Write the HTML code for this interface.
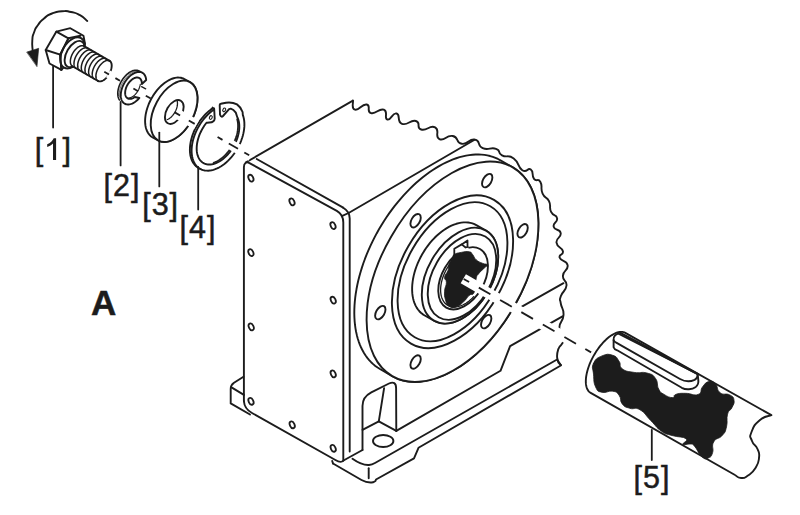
<!DOCTYPE html>
<html><head><meta charset="utf-8"><title>Diagram</title>
<style>
html,body{margin:0;padding:0;background:#fff;}
body{width:800px;height:515px;overflow:hidden;font-family:"Liberation Sans",sans-serif;}
svg{display:block;}
text{font-family:"Liberation Sans",sans-serif;fill:#1c1c1c;}
</style></head><body>
<svg width="800" height="515" viewBox="0 0 800 515">
<rect width="800" height="515" fill="#fff"/>
<path d="M352.90,100.60 C353.53,103.33 350.86,108.53 355.00,109.70 C359.14,110.87 361.90,103.48 366.70,104.50 C371.50,105.52 365.87,111.54 371.00,113.10 C376.13,114.66 378.88,107.78 383.80,109.70 C388.72,111.62 383.56,118.36 387.40,119.50 C391.24,120.64 392.22,112.21 396.60,113.50 C400.98,114.79 396.21,121.55 402.00,123.80 C407.79,126.05 410.14,119.29 415.90,121.00 C421.66,122.71 415.44,127.58 421.20,129.50 C426.96,131.42 429.64,124.52 435.10,127.40 C440.56,130.28 434.09,136.52 439.40,139.10 C444.71,141.68 446.08,134.59 452.80,136.00 C459.52,137.41 455.14,142.72 461.80,143.80 C468.46,144.88 468.73,138.28 475.00,139.60 C481.27,140.92 476.40,145.44 482.70,148.20 C489.00,150.96 490.21,146.67 496.00,148.80 C501.79,150.93 496.69,152.39 502.00,155.30 C507.31,158.21 507.61,154.03 513.70,158.50 C519.79,162.97 517.17,166.87 522.30,170.20 C527.43,173.53 527.29,167.02 530.80,169.60 C534.31,172.18 531.12,175.08 534.00,178.80 C536.88,182.52 537.82,177.53 540.40,182.00 C542.98,186.47 540.02,187.94 542.60,193.70 C545.18,199.46 546.45,195.74 549.00,201.20 C551.55,206.66 548.67,206.77 551.10,211.90 C553.53,217.03 556.32,213.86 557.10,218.30 C557.88,222.74 552.62,222.26 553.70,226.70 C554.78,231.14 559.86,228.30 560.70,233.10 C561.54,237.90 555.84,237.24 556.50,242.70 C557.16,248.16 561.94,246.80 562.90,251.30 C563.86,255.80 558.29,253.53 559.70,257.70 C561.11,261.87 566.64,259.74 567.60,265.20 C568.56,270.66 563.23,269.81 562.90,275.90 C562.57,281.99 567.13,279.41 566.50,285.50 C565.87,291.59 562.51,290.80 560.80,296.20 C559.09,301.60 559.99,297.77 560.80,303.50 C561.61,309.23 563.95,307.95 563.50,315.30 C563.05,322.65 559.30,320.65 559.30,328.00 C559.30,335.35 563.83,333.38 563.50,339.80 C563.17,346.22 560.00,343.49 558.20,349.40 C556.40,355.31 556.72,354.82 557.50,359.50 C558.28,364.18 559.81,363.35 560.80,365.00" fill="none" stroke="#1c1c1c" stroke-width="1.9" stroke-linecap="round" stroke-linejoin="round" />
<path d="M246.00,162.30 L352.90,100.60" fill="none" stroke="#1c1c1c" stroke-width="1.9" stroke-linecap="round" stroke-linejoin="round" />
<path d="M256.70,159.00 L343.20,207.70" fill="none" stroke="#1c1c1c" stroke-width="1.9" stroke-linecap="round" stroke-linejoin="round" />
<path d="M343.2,207.7 Q349.7,211.5 349.7,218.4 L349.7,451.5" fill="none" stroke="#1c1c1c" stroke-width="1.9" stroke-linecap="round" stroke-linejoin="round" />
<path d="M348.60,213.00 L474.60,139.80" fill="none" stroke="#1c1c1c" stroke-width="1.9" stroke-linecap="round" stroke-linejoin="round" />
<path d="M243.9,401.3 L243.9,167.2 C243.9,163 246.2,161.3 249.5,163.1 L336.8,210.9 Q343.3,214.5 343.3,222.6 L343.3,460.5" fill="none" stroke="#1c1c1c" stroke-width="1.9" stroke-linecap="round" stroke-linejoin="round" />
<path d="M341.80,216.20 L348.60,213.00" fill="none" stroke="#1c1c1c" stroke-width="1.9" stroke-linecap="round" stroke-linejoin="round" />
<path d="M243.9,401.3 Q244.5,409 252,413 L335.4,460 Q341,463.5 343.5,460.5" fill="none" stroke="#1c1c1c" stroke-width="1.9" stroke-linecap="round" stroke-linejoin="round" />
<ellipse cx="250.9" cy="178.2" rx="2.3" ry="3.6" transform="rotate(-25 250.9 178.2)" fill="#fff" stroke="#1c1c1c" stroke-width="1.8"/>
<ellipse cx="292.0" cy="201.9" rx="2.3" ry="3.6" transform="rotate(-25 292.0 201.9)" fill="#fff" stroke="#1c1c1c" stroke-width="1.8"/>
<ellipse cx="333.0" cy="225.6" rx="2.3" ry="3.6" transform="rotate(-25 333.0 225.6)" fill="#fff" stroke="#1c1c1c" stroke-width="1.8"/>
<ellipse cx="250.9" cy="252.6" rx="2.3" ry="3.6" transform="rotate(-25 250.9 252.6)" fill="#fff" stroke="#1c1c1c" stroke-width="1.8"/>
<ellipse cx="251.2" cy="326.9" rx="2.3" ry="3.6" transform="rotate(-25 251.2 326.9)" fill="#fff" stroke="#1c1c1c" stroke-width="1.8"/>
<ellipse cx="333.2" cy="300.2" rx="2.3" ry="3.6" transform="rotate(-25 333.2 300.2)" fill="#fff" stroke="#1c1c1c" stroke-width="1.8"/>
<ellipse cx="333.2" cy="373.9" rx="2.3" ry="3.6" transform="rotate(-25 333.2 373.9)" fill="#fff" stroke="#1c1c1c" stroke-width="1.8"/>
<ellipse cx="251.0" cy="401.3" rx="2.3" ry="3.6" transform="rotate(-25 251.0 401.3)" fill="#fff" stroke="#1c1c1c" stroke-width="1.8"/>
<ellipse cx="292.2" cy="424.8" rx="2.3" ry="3.6" transform="rotate(-25 292.2 424.8)" fill="#fff" stroke="#1c1c1c" stroke-width="1.8"/>
<ellipse cx="333.2" cy="448.3" rx="2.3" ry="3.6" transform="rotate(-25 333.2 448.3)" fill="#fff" stroke="#1c1c1c" stroke-width="1.8"/>
<path d="M243.5,376.7 L234,382.8 Q230.7,385 230.7,389 L230.7,403.4 L250,414.5" fill="none" stroke="#1c1c1c" stroke-width="1.9" stroke-linecap="round" stroke-linejoin="round" />
<path d="M231.50,387.40 L243.90,394.90" fill="none" stroke="#1c1c1c" stroke-width="1.9" stroke-linecap="round" stroke-linejoin="round" />
<path d="M343.50,460.50 L362.50,450.00" fill="none" stroke="#1c1c1c" stroke-width="1.9" stroke-linecap="round" stroke-linejoin="round" />
<path d="M362.5,450 L362.5,406 Q362.5,397 371.3,392.4 L389,383.5 Q396,380.5 396.1,388 L396.3,430.9" fill="none" stroke="#1c1c1c" stroke-width="1.9" stroke-linecap="round" stroke-linejoin="round" />
<path d="M384.10,388.20 L378.80,421.30" fill="none" stroke="#1c1c1c" stroke-width="1.9" stroke-linecap="round" stroke-linejoin="round" />
<path d="M362.50,429.80 L378.80,421.30" fill="none" stroke="#1c1c1c" stroke-width="1.9" stroke-linecap="round" stroke-linejoin="round" />
<path d="M378.80,421.30 L396.30,430.90" fill="none" stroke="#1c1c1c" stroke-width="1.9" stroke-linecap="round" stroke-linejoin="round" />
<path d="M396.3,430.9 L500.5,370.8 L510.1,346.2 L562.5,316.3" fill="none" stroke="#1c1c1c" stroke-width="1.9" stroke-linecap="round" stroke-linejoin="round" />
<path d="M352.5,458.7 Q362,465.5 369,465 Q372,464.8 375,463 L557.1,359.5 L560.8,365" fill="none" stroke="#1c1c1c" stroke-width="1.9" stroke-linecap="round" stroke-linejoin="round" />
<path d="M333,463.5 L361.5,480 Q367.5,483.3 373,482.3 L375.5,481 L376,479.5 L414,458.3 L418.5,447.8 L560.8,365.5" fill="none" stroke="#1c1c1c" stroke-width="1.9" stroke-linecap="round" stroke-linejoin="round" />
<path d="M333.00,463.50 L332.20,461.00" fill="none" stroke="#1c1c1c" stroke-width="1.9" stroke-linecap="round" stroke-linejoin="round" />
<path d="M368.70,468.30 L368.70,478.20" fill="none" stroke="#1c1c1c" stroke-width="1.9" stroke-linecap="round" stroke-linejoin="round" />
<ellipse cx="383.2" cy="441" rx="10.2" ry="6" fill="none" stroke="#1c1c1c" stroke-width="1.9"/>
<path d="M521.90,306.70 L563.50,283.20" fill="none" stroke="#1c1c1c" stroke-width="1.9" stroke-linecap="round" stroke-linejoin="round" />
<path d="M379.95,369.01 L377.60,367.54 L375.33,365.91 L373.17,364.13 L371.12,362.19 L369.17,360.10 L367.32,357.87 L365.59,355.49 L363.98,352.97 L362.48,350.32 L361.11,347.53 L359.85,344.62 L358.72,341.58 L357.72,338.43 L356.84,335.16 L356.09,331.78 L355.47,328.30 L354.98,324.72 L354.62,321.04 L354.40,317.29 L354.30,313.44 L354.34,309.53 L354.52,305.54 L354.82,301.50 L355.25,297.39 L355.82,293.23 L356.52,289.04 L357.34,284.80 L358.29,280.53 L359.37,276.24 L360.58,271.93 L361.91,267.60 L363.35,263.28 L364.92,258.95 L366.60,254.64 L368.40,250.34 L370.30,246.06 L372.32,241.81 L374.44,237.60 L376.66,233.42 L378.97,229.30 L381.39,225.23 L383.89,221.22 L386.48,217.28 L389.15,213.41 L391.91,209.62 L394.73,205.92 L397.63,202.30 L400.59,198.78 L403.61,195.37 L406.69,192.06 L409.82,188.86 L413.00,185.78 L416.22,182.82 L419.48,179.98 L422.77,177.28 L426.08,174.71 L429.42,172.28 L432.77,170.00 L436.14,167.85 L439.51,165.86 L442.88,164.02 L446.25,162.34 L449.61,160.81 L452.96,159.45 L456.28,158.24 L459.58,157.20 L462.85,156.33 L466.09,155.62 L469.28,155.08 L472.44,154.71 L475.54,154.51 L478.58,154.48 L481.57,154.62 L484.49,154.93 L487.35,155.40 L490.13,156.05 L492.84,156.86 L495.46,157.84 L498.00,158.99 L500.45,160.29 L512.75,167.39 L515.11,168.86 L517.37,170.49 L519.53,172.27 L521.59,174.21 L523.54,176.30 L525.38,178.53 L527.11,180.91 L528.72,183.43 L530.22,186.08 L531.59,188.87 L532.85,191.78 L533.98,194.82 L534.99,197.97 L535.86,201.24 L536.61,204.62 L537.23,208.10 L537.72,211.68 L538.08,215.36 L538.30,219.11 L538.40,222.96 L538.36,226.87 L538.19,230.86 L537.88,234.90 L537.45,239.01 L536.88,243.17 L536.19,247.36 L535.36,251.60 L534.41,255.87 L533.33,260.16 L532.12,264.47 L530.80,268.80 L529.35,273.12 L527.78,277.45 L526.10,281.76 L524.31,286.06 L522.40,290.34 L520.39,294.59 L518.27,298.80 L516.05,302.98 L513.73,307.10 L511.32,311.17 L508.81,315.18 L506.22,319.12 L503.55,322.99 L500.80,326.78 L497.97,330.48 L495.07,334.10 L492.11,337.62 L489.09,341.03 L486.01,344.34 L482.88,347.54 L479.70,350.62 L476.48,353.58 L473.22,356.42 L469.94,359.12 L466.62,361.69 L463.28,364.12 L459.93,366.40 L456.56,368.55 L453.19,370.54 L449.82,372.38 L446.45,374.06 L443.09,375.59 L439.75,376.95 L436.42,378.16 L433.12,379.20 L429.85,380.07 L426.61,380.78 L423.42,381.32 L420.27,381.69 L417.17,381.89 L414.12,381.92 L411.13,381.78 L408.21,381.47 L405.35,381.00 L402.57,380.35 L399.86,379.54 L397.24,378.56 L394.70,377.41 L392.25,376.11Z" fill="#fff" stroke="#1c1c1c" stroke-width="1.9" stroke-linecap="round" stroke-linejoin="round" />
<ellipse cx="452.50" cy="271.75" rx="70.70" ry="120.50" transform="rotate(30 452.50 271.75)" fill="#fff" stroke="#1c1c1c" stroke-width="1.9"/>
<ellipse cx="487.2" cy="180.6" rx="4.2" ry="7.4" transform="rotate(30 487.2 180.6)" fill="#fff" stroke="#1c1c1c" stroke-width="1.9"/>
<ellipse cx="522.6" cy="230.8" rx="4.2" ry="7.4" transform="rotate(30 522.6 230.8)" fill="#fff" stroke="#1c1c1c" stroke-width="1.9"/>
<ellipse cx="486.2" cy="321.6" rx="4.2" ry="7.4" transform="rotate(30 486.2 321.6)" fill="#fff" stroke="#1c1c1c" stroke-width="1.9"/>
<ellipse cx="415.6" cy="362.0" rx="4.2" ry="7.4" transform="rotate(30 415.6 362.0)" fill="#fff" stroke="#1c1c1c" stroke-width="1.9"/>
<ellipse cx="380.3" cy="312.6" rx="4.2" ry="7.4" transform="rotate(30 380.3 312.6)" fill="#fff" stroke="#1c1c1c" stroke-width="1.9"/>
<ellipse cx="415.6" cy="220.7" rx="4.2" ry="7.4" transform="rotate(30 415.6 220.7)" fill="#fff" stroke="#1c1c1c" stroke-width="1.9"/>
<ellipse cx="452.50" cy="271.75" rx="51.00" ry="83.00" transform="rotate(30 452.50 271.75)" fill="#fff" stroke="#1c1c1c" stroke-width="1.9"/>
<ellipse cx="452.50" cy="271.75" rx="46.00" ry="75.60" transform="rotate(30 452.50 271.75)" fill="none" stroke="#1c1c1c" stroke-width="1.9"/>
<path d="M424.30,315.23 L422.53,314.08 L420.87,312.74 L419.34,311.22 L417.95,309.52 L416.69,307.65 L415.57,305.63 L414.61,303.45 L413.80,301.12 L413.14,298.67 L412.64,296.10 L412.31,293.41 L412.14,290.62 L412.13,287.75 L412.28,284.80 L412.60,281.79 L413.07,278.73 L413.71,275.63 L414.51,272.51 L415.45,269.38 L416.55,266.26 L417.79,263.15 L419.17,260.07 L420.69,257.03 L422.33,254.05 L424.09,251.14 L425.96,248.31 L427.94,245.57 L430.01,242.94 L432.17,240.43 L434.41,238.05 L436.71,235.80 L439.07,233.70 L441.49,231.75 L443.94,229.97 L446.41,228.37 L448.91,226.94 L451.40,225.69 L453.90,224.64 L456.38,223.78 L458.83,223.12 L461.25,222.67 L463.62,222.41 L465.93,222.37 L468.17,222.52 L470.34,222.88 L472.43,223.44 L474.41,224.21 L476.30,225.17 L486.00,230.57 L487.77,231.72 L489.43,233.06 L490.96,234.58 L492.35,236.28 L493.61,238.15 L494.73,240.17 L495.69,242.35 L496.50,244.68 L497.16,247.13 L497.66,249.70 L497.99,252.39 L498.16,255.18 L498.17,258.05 L498.02,261.00 L497.70,264.01 L497.23,267.07 L496.59,270.17 L495.79,273.29 L494.85,276.42 L493.75,279.54 L492.51,282.65 L491.13,285.73 L489.61,288.77 L487.97,291.75 L486.21,294.66 L484.34,297.49 L482.36,300.23 L480.29,302.86 L478.13,305.37 L475.89,307.75 L473.59,310.00 L471.23,312.10 L468.81,314.05 L466.36,315.83 L463.89,317.43 L461.39,318.86 L458.90,320.11 L456.40,321.16 L453.92,322.02 L451.47,322.68 L449.05,323.13 L446.68,323.39 L444.37,323.43 L442.13,323.28 L439.96,322.92 L437.87,322.36 L435.89,321.59 L434.00,320.63Z" fill="#fff" stroke="#1c1c1c" stroke-width="1.9" stroke-linecap="round" stroke-linejoin="round" />
<ellipse cx="460.00" cy="275.60" rx="32.30" ry="52.00" transform="rotate(30 460.00 275.60)" fill="#fff" stroke="#1c1c1c" stroke-width="1.9"/>
<ellipse cx="462.00" cy="276.90" rx="29.00" ry="46.60" transform="rotate(30 462.00 276.90)" fill="#fff" stroke="#1c1c1c" stroke-width="1.9"/>
<ellipse cx="463.10" cy="278.30" rx="21.00" ry="33.80" transform="rotate(30 463.10 278.30)" fill="#fff" stroke="#1c1c1c" stroke-width="1.9"/>
<path d="M458.73,255.04 L457.16,256.27 L455.62,257.62 L454.12,259.07 L452.67,260.62 L451.27,262.26 L449.93,263.98 L448.66,265.77 L447.47,267.63 L446.35,269.54 L445.32,271.49 L444.38,273.48 L443.54,275.50 L442.80,277.53 L442.16,279.56 L441.62,281.59 L441.20,283.60 L440.89,285.58 L440.69,287.53 L440.60,289.43 L440.63,291.28 L440.78,293.06 L441.03,294.77 L441.40,296.40 L441.88,297.93 L442.47,299.37 L443.17,300.70 L443.96,301.93 L444.86,303.03 L445.84,304.01 L446.92,304.86 L448.07,305.57 L449.31,306.15 L450.61,306.59 L451.98,306.89 L453.41,307.05 L454.89,307.06 L456.41,306.93 L457.96,306.66 L459.54,306.24 L461.15,305.68 L462.76,304.99 L464.38,304.16 L465.99,303.20 L467.58,302.12 L469.16,300.92 L470.71,299.60 L472.22,298.18 L473.69,296.66" fill="none" stroke="#1c1c1c" stroke-width="1.3" stroke-linecap="round" stroke-linejoin="round" />
<path d="M454.3,256.5 L454.3,248.7 L461.7,244.4 L465.6,247.5 L468,247 L470,252 Z" fill="#fff" stroke="none" stroke-width="0" stroke-linecap="round" stroke-linejoin="round" />
<path d="M454.3,255.6 L454.3,248.7 L461.7,244.4 L465.6,247.5 L467.6,247" fill="none" stroke="#1c1c1c" stroke-width="1.8" stroke-linecap="round" stroke-linejoin="round" />
<path d="M461.7,244.4 L467.5,240.5 L467.5,246.6" fill="none" stroke="#1c1c1c" stroke-width="1.8" stroke-linecap="round" stroke-linejoin="round" />
<path d="M454.20,254.50 C456.52,253.01 457.23,253.12 461.20,252.40 C465.17,251.68 466.06,251.24 469.10,251.80 C472.14,252.36 470.73,252.39 472.60,254.50 C474.47,256.61 473.54,257.38 476.10,259.70 C478.66,262.02 479.19,261.81 482.20,263.20 C485.21,264.59 486.95,263.51 487.40,264.90 C487.85,266.29 486.22,266.05 483.90,268.40 C481.58,270.75 480.78,270.90 478.70,273.70 C476.62,276.50 477.27,274.02 476.10,278.90 C474.93,283.78 476.17,287.57 474.30,292.00 C472.43,296.43 471.90,292.94 469.10,295.50 C466.30,298.06 467.29,298.56 463.80,301.60 C460.31,304.64 459.95,305.73 456.00,306.90 C452.05,308.07 451.80,307.87 449.00,306.00 C446.20,304.13 446.67,303.85 445.50,299.90 C444.33,295.95 444.36,295.87 444.60,291.20 C444.84,286.53 446.40,286.13 446.40,282.40 C446.40,278.67 444.15,280.45 444.60,277.20 C445.05,273.95 446.93,273.69 448.10,270.20 C449.27,266.71 447.83,267.35 449.00,264.10 C450.17,260.85 451.11,260.56 452.50,258.00 C453.89,255.44 451.88,255.99 454.20,254.50Z" fill="#1c1c1c" stroke="#1c1c1c" stroke-width="0.8" stroke-linecap="round" stroke-linejoin="round" />
<path d="M625.33,332.89 L624.38,332.43 L623.37,332.10 L622.29,331.91 L621.15,331.84 L619.95,331.91 L618.70,332.11 L617.41,332.45 L616.08,332.91 L614.71,333.50 L613.31,334.22 L611.89,335.06 L610.45,336.02 L609.01,337.10 L607.55,338.29 L606.10,339.58 L604.66,340.97 L603.24,342.45 L601.83,344.03 L600.45,345.68 L599.10,347.41 L597.79,349.20 L596.52,351.05 L595.31,352.95 L594.14,354.90 L593.04,356.88 L592.00,358.89 L591.03,360.91 L590.13,362.94 L589.31,364.97 L588.57,366.99 L587.91,369.00 L587.34,370.98 L586.85,372.92 L586.46,374.82 L586.16,376.67 L585.95,378.46 L585.84,380.19 L585.82,381.84 L585.90,383.41 L586.07,384.89 L586.33,386.27 L586.69,387.56 L587.14,388.74 L587.68,389.81 L588.30,390.77 L589.01,391.61 L589.81,392.32 L590.67,392.91 L735,475  C736.80,475.90 737.10,477.85 741.00,478.00 C744.90,478.15 743.65,478.50 748.00,475.50 C752.35,472.50 752.20,473.25 755.50,468.00 C758.80,462.75 758.40,463.70 759.00,458.00 C759.60,452.30 759.60,454.10 757.50,449.00 C755.40,443.90 753.80,446.10 752.00,441.00 C750.20,435.90 749.10,438.30 751.50,432.00 C753.90,425.70 754.03,425.04 760.00,420.00 C765.97,414.96 767.98,416.64 771.40,415.20 Z" fill="#fff" stroke="#1c1c1c" stroke-width="1.9" stroke-linecap="round" stroke-linejoin="round" />
<path d="M593.50,363.40 C595.77,358.55 596.88,358.06 602.00,355.90 C607.12,353.74 608.14,353.86 612.70,355.30 C617.26,356.74 616.54,357.70 619.10,361.30 C621.66,364.90 618.30,365.84 622.30,368.80 C626.30,371.76 627.54,371.28 634.10,372.40 C640.66,373.52 641.19,371.40 646.90,373.00 C652.61,374.60 652.35,374.11 655.50,378.40 C658.65,382.69 656.43,384.83 658.70,389.10 C660.97,393.37 660.29,392.13 664.00,394.40 C667.71,396.67 669.45,397.60 672.60,397.60 C675.75,397.60 672.39,395.55 675.80,394.40 C679.21,393.25 679.43,393.30 685.40,393.30 C691.37,393.30 693.64,396.11 698.20,394.40 C702.76,392.69 699.65,390.31 702.50,386.90 C705.35,383.49 705.43,382.37 708.90,381.60 C712.37,380.83 712.51,381.04 715.50,384.00 C718.49,386.96 716.31,389.79 720.10,392.70 C723.89,395.61 725.99,392.90 729.70,394.90 C733.41,396.90 733.41,396.79 734.00,400.20 C734.59,403.61 733.61,403.99 731.90,407.70 C730.19,411.41 729.04,408.98 727.60,414.10 C726.16,419.22 727.94,421.19 726.50,426.90 C725.06,432.61 725.61,431.50 722.20,435.50 C718.79,439.50 716.26,437.34 713.70,441.90 C711.14,446.46 714.01,448.33 712.60,452.60 C711.19,456.87 711.23,456.78 708.40,457.90 C705.57,459.02 705.71,459.92 702.00,456.80 C698.29,453.68 697.65,449.61 694.50,446.20 C691.35,442.79 693.27,444.51 690.20,444.00 C687.13,443.49 684.15,445.71 683.00,444.30 C681.85,442.89 688.83,441.05 685.90,438.70 C682.97,436.35 678.53,437.50 672.00,435.50 C665.47,433.50 667.08,435.20 661.40,431.20 C655.72,427.20 656.41,426.21 650.70,420.50 C644.99,414.79 645.57,413.05 640.00,409.80 C634.43,406.55 634.52,409.85 629.80,408.30 C625.08,406.75 625.13,407.41 622.30,404.00 C619.47,400.59 621.76,398.91 619.20,395.50 C616.64,392.09 617.29,392.05 612.70,391.20 C608.11,390.35 606.56,393.45 602.00,392.30 C597.44,391.15 597.87,391.75 595.60,386.90 C593.33,382.05 594.06,380.37 593.50,374.10 C592.94,367.83 591.23,368.25 593.50,363.40Z" fill="#1c1c1c" stroke="#1c1c1c" stroke-width="0.8" stroke-linecap="round" stroke-linejoin="round" />
<path d="M618,333.5 L615.2,335.2 Q613.2,337.5 613.6,340.2 L613.6,347.3 Q614.3,349.6 617.2,350.3 L681.8,387.8 C686,390 692,389.6 695.8,386.9 C698,385 698.7,383 698.3,380 L697.6,374 Z" fill="#fff" stroke="#1c1c1c" stroke-width="1.9" stroke-linecap="round" stroke-linejoin="round" />
<path d="M613.6,340.2 Q614.3,342 616.2,342.7 L680,379 C684,381.2 690,382 694.6,379.9 C696.8,378.6 697.8,376.8 697.6,374" fill="none" stroke="#1c1c1c" stroke-width="1.9" stroke-linecap="round" stroke-linejoin="round" />
<path d="M619.5,332.5 L697.6,374" fill="none" stroke="#1c1c1c" stroke-width="2.3" stroke-linecap="round" stroke-linejoin="round" />
<path d="M224.03,161.84 L222.63,162.98 L221.22,164.03 L219.80,165.00 L218.36,165.89 L216.92,166.69 L215.48,167.40 L214.04,168.02 L212.60,168.54 L211.18,168.97 L209.77,169.30 L208.38,169.54 L207.02,169.67 L205.68,169.71 L204.38,169.65 L203.11,169.49 L201.88,169.23 L200.69,168.87 L199.55,168.42 L198.46,167.87 L197.42,167.22 L196.44,166.49 L195.52,165.67 L194.66,164.76 L193.87,163.76 L193.14,162.69 L192.48,161.53 L191.89,160.31 L191.38,159.01 L190.94,157.64 L190.58,156.21 L190.29,154.72 L190.08,153.18 L189.95,151.59 L189.90,149.96 L189.93,148.28 L190.03,146.57 L190.22,144.83 L190.48,143.06 L190.82,141.28 L191.24,139.48 L191.73,137.67 L192.29,135.86 L192.93,134.05 L193.64,132.25 L194.41,130.46 L195.25,128.70 L196.15,126.95 L197.11,125.23 L198.13,123.55 L199.21,121.91 L200.33,120.31 L201.51,118.75 L202.72,117.26 L203.98,115.82 L205.28,114.44 L206.60,113.13 L207.96,111.89 L209.34,110.72 L210.74,109.63 L212.16,108.62 L212.6,107.6" fill="none" stroke="#1c1c1c" stroke-width="1.9" stroke-linecap="round" stroke-linejoin="round" />
<path d="M242.81,114.88 L243.38,116.62 L243.82,118.46 L244.14,120.39 L244.34,122.40 L244.40,124.49 L244.34,126.64 L244.14,128.85 L243.82,131.10 L243.38,133.38 L242.81,135.68 L242.12,137.99 L241.31,140.30 L240.39,142.60 L239.36,144.87 L238.23,147.10 L237.00,149.29 L235.67,151.42 L234.26,153.49 L232.77,155.48 L231.21,157.38 L229.58,159.18 L227.90,160.88 L226.16,162.47 L224.39,163.93 L222.59,165.27 L220.77,166.47 L218.93,167.53 L217.09,168.44 L215.25,169.21 L213.42,169.82 L211.62,170.27 L209.85,170.57 L208.12,170.70 L206.43,170.67 L204.81,170.49 L203.24,170.14 L201.75,169.63 L200.34,168.97 L199.01,168.15 L197.78,167.19 L196.65,166.08 L195.61,164.83 L194.69,163.45 L193.88,161.94 L193.19,160.32 L192.62,158.58 L192.18,156.74 L191.86,154.81 L191.66,152.80 L191.60,150.71 L191.66,148.56 L191.86,146.35 L192.18,144.10 L192.62,141.82 L193.19,139.52 L193.88,137.21 L194.69,134.90 L195.61,132.60 L196.64,130.33 L197.77,128.10 L199.00,125.91 L200.33,123.78 L201.74,121.71 L203.23,119.72 L204.79,117.82 L206.42,116.02 L208.10,114.32 L209.84,112.73 L211.61,111.27 L213.41,109.93 L213.2,108.3 Q214.2,107.8 214.2,109.2 L214.7,118.8 Q214.6,120.6 213.2,121.4 L211.6,122.3 L207.2,122.7 L206.50,122.78 L205.35,124.27 L204.26,125.83 L203.22,127.43 L202.25,129.08 L201.35,130.77 L200.51,132.48 L199.75,134.21 L199.07,135.96 L198.47,137.72 L197.95,139.48 L197.52,141.23 L197.17,142.96 L196.92,144.67 L196.75,146.35 L196.68,147.99 L196.69,149.59 L196.80,151.13 L196.99,152.62 L197.28,154.05 L197.66,155.40 L198.12,156.68 L198.66,157.88 L199.29,158.99 L200.00,160.01 L200.79,160.94 L201.64,161.76 L202.57,162.48 L203.57,163.10 L204.62,163.60 L205.74,164.00 L206.90,164.28 L208.11,164.45 L209.37,164.51 L210.66,164.45 L211.98,164.27 L213.33,163.98 L214.70,163.58 L216.08,163.07 L217.48,162.45 L218.87,161.72 L220.26,160.90 L221.64,159.97 L223.00,158.94 L224.34,157.83 L225.66,156.63 L226.94,155.34 L228.19,153.99 L229.39,152.56 L230.54,151.06 L231.64,149.52 L232.68,147.92 L233.66,146.27 L234.57,144.59 L235.41,142.88 L236.18,141.15 L236.87,139.40 L237.48,137.64 L238.00,135.88 L238.45,134.13 L238.80,132.40 L239.06,130.69 L239.24,129.01 L239.32,127.36 L239.31,125.76 L239.22,124.20 L239.03,122.71 L238.75,121.28 L238.38,119.92 L237.93,118.63 L237.39,117.43 L235.8,112.6 Q233.5,109.3 230.8,108.6 L229.1,109.2 L223,116 Q221.8,117.2 220.8,116.2 L220,114.6 L219.7,105 Q219.7,104 220.8,103.8 L226,102.7 Q232,101.8 237,104.4 Q240.7,107 242.6,112 Z" fill="#fff" stroke="#1c1c1c" stroke-width="1.9" stroke-linecap="round" stroke-linejoin="round" />
<ellipse cx="210.8" cy="117.5" rx="1.3" ry="1.9" transform="rotate(30 210.8 117.5)" fill="#fff" stroke="#1c1c1c" stroke-width="1.1"/>
<ellipse cx="224.2" cy="109.8" rx="1.3" ry="1.9" transform="rotate(30 224.2 109.8)" fill="#fff" stroke="#1c1c1c" stroke-width="1.1"/>
<path d="M213.59,162.72 L214.48,162.39 L215.36,162.03 L216.26,161.61 L217.15,161.15 L218.04,160.66 L218.93,160.11 L219.81,159.53 L220.69,158.91 L221.56,158.25 L222.43,157.55 L223.28,156.82 L224.12,156.05 L224.95,155.25 L225.77,154.41 L226.57,153.55 L227.35,152.65 L228.11,151.73 L228.86,150.78 L229.58,149.81 L230.28,148.81 L230.95,147.79 L231.60,146.76 L232.23,145.70 L232.83,144.63 L233.40,143.55 L233.94,142.46 L234.45,141.35 L234.93,140.24 L235.37,139.12 L235.79,138.00 L236.17,136.87 L236.52,135.75 L236.83,134.63 L237.11,133.51 L237.35,132.39 L237.55,131.29 L237.72,130.19 L237.85,129.11 L237.95,128.04 L238.01,126.98 L238.03,125.94 L238.01,124.92 L237.96,123.92 L237.87,122.95 L237.74,121.99 L237.58,121.07 L237.38,120.17 L237.14,119.30" fill="none" stroke="#1c1c1c" stroke-width="1.7" stroke-linecap="round" stroke-linejoin="round" />
<path d="M152.66,137.38 L151.57,136.70 L150.55,135.91 L149.60,134.99 L148.74,133.96 L147.96,132.82 L147.27,131.58 L146.67,130.23 L146.17,128.79 L145.76,127.26 L145.45,125.65 L145.23,123.97 L145.12,122.22 L145.10,120.41 L145.19,118.54 L145.38,116.63 L145.66,114.69 L146.04,112.72 L146.52,110.73 L147.10,108.72 L147.76,106.72 L148.52,104.72 L149.35,102.74 L150.28,100.78 L151.28,98.85 L152.35,96.96 L153.49,95.12 L154.70,93.34 L155.96,91.61 L157.28,89.97 L158.65,88.39 L160.06,86.91 L161.50,85.51 L162.98,84.21 L164.48,83.02 L165.99,81.93 L167.52,80.96 L169.05,80.10 L170.58,79.36 L172.10,78.74 L173.61,78.26 L175.09,77.90 L176.54,77.67 L177.96,77.57 L179.34,77.60 L180.68,77.76 L181.96,78.05 L183.18,78.47 L184.34,79.02 L189.94,82.12 L191.03,82.80 L192.05,83.59 L193.00,84.51 L193.86,85.54 L194.64,86.68 L195.33,87.92 L195.93,89.27 L196.43,90.71 L196.84,92.24 L197.15,93.85 L197.37,95.53 L197.48,97.28 L197.50,99.09 L197.41,100.96 L197.22,102.87 L196.94,104.81 L196.56,106.78 L196.08,108.77 L195.50,110.78 L194.84,112.78 L194.08,114.78 L193.25,116.76 L192.32,118.72 L191.32,120.65 L190.25,122.54 L189.11,124.38 L187.90,126.16 L186.64,127.89 L185.32,129.53 L183.95,131.11 L182.54,132.59 L181.10,133.99 L179.62,135.29 L178.12,136.48 L176.61,137.57 L175.08,138.54 L173.55,139.40 L172.02,140.14 L170.50,140.76 L168.99,141.24 L167.51,141.60 L166.06,141.83 L164.64,141.93 L163.26,141.90 L161.92,141.74 L160.64,141.45 L159.42,141.03 L158.26,140.48Z" fill="#fff" stroke="#1c1c1c" stroke-width="1.9" stroke-linecap="round" stroke-linejoin="round" />
<ellipse cx="174.10" cy="111.30" rx="19.60" ry="33.20" transform="rotate(28.5 174.10 111.30)" fill="#fff" stroke="#1c1c1c" stroke-width="1.9"/>
<clipPath id="wh"><ellipse cx="174.30" cy="112.00" rx="7.8" ry="13" transform="rotate(30 174.30 112.00)"/></clipPath>
<g clip-path="url(#wh)">
<path d="M167.46,119.53 L168.01,119.27 L168.55,118.96 L169.10,118.62 L169.64,118.25 L170.17,117.84 L170.70,117.41 L171.22,116.94 L171.73,116.44 L172.22,115.92 L172.71,115.37 L173.17,114.79 L173.62,114.20 L174.05,113.58 L174.47,112.95 L174.85,112.30 L175.22,111.64 L175.56,110.97 L175.88,110.29 L176.17,109.60 L176.44,108.91 L176.67,108.21 L176.88,107.52 L177.05,106.83 L177.20,106.15 L177.32,105.47 L177.40,104.81 L177.45,104.15 L177.47,103.51 L177.46,102.89 L177.42,102.28 L177.35,101.70 L177.24,101.14 L177.11,100.60 L176.94,100.09 L176.74,99.61 L176.52,99.15 L176.26,98.73 L175.98,98.34 L175.67,97.99 L175.34,97.67 L174.98,97.39 L174.60,97.14 L174.20,96.93 L173.77,96.77 L173.33,96.64 L172.87,96.55 L172.39,96.50 L171.90,96.49" fill="none" stroke="#1c1c1c" stroke-width="1.3" stroke-linecap="round" stroke-linejoin="round" />
</g>
<ellipse cx="174.30" cy="112.00" rx="7.80" ry="13.00" transform="rotate(30 174.30 112.00)" fill="none" stroke="#1c1c1c" stroke-width="1.9"/>
<path d="M142.75,75.78 L142.54,75.10 L142.29,74.46 L142.00,73.85 L141.67,73.29 L141.31,72.77 L140.91,72.30 L140.48,71.87 L140.01,71.49 L139.52,71.15 L138.99,70.87 L138.44,70.64 L137.87,70.45 L137.27,70.32 L136.65,70.24 L136.00,70.22 L135.35,70.24 L134.67,70.32 L133.98,70.45 L133.28,70.63 L132.57,70.86 L131.86,71.14 L131.14,71.48 L130.42,71.86 L129.70,72.28 L128.98,72.76 L128.27,73.27 L127.56,73.83 L126.86,74.43 L126.18,75.07 L125.50,75.75 L124.85,76.46 L124.21,77.20 L123.60,77.98 L123.00,78.78 L122.43,79.60 L121.88,80.45 L121.37,81.32 L120.88,82.20 L120.42,83.10 L120.00,84.01 L119.61,84.92 L119.25,85.84 L118.93,86.77 L118.65,87.69 L118.41,88.61 L118.20,89.52 L118.04,90.42 L117.91,91.31 L117.83,92.19 L117.78,93.04 L117.78,93.88 L117.82,94.69 L117.90,95.47 L118.01,96.23 L118.17,96.96 L118.37,97.65 L118.61,98.30 L118.89,98.92 L119.20,99.50 L119.55,100.03" fill="none" stroke="#1c1c1c" stroke-width="1.6" stroke-linecap="round" stroke-linejoin="round" />
<path d="M141.66,72.45 L141.29,72.18 L140.90,71.93 L140.49,71.72 L140.07,71.54 L139.64,71.38 L139.19,71.26 L138.72,71.16 L138.24,71.10 L137.75,71.07 L137.25,71.07 L136.74,71.10 L136.22,71.16 L135.70,71.25 L135.16,71.38 L134.62,71.53 L134.07,71.71 L133.53,71.92 L132.97,72.17 L132.42,72.44 L131.86,72.74 L131.31,73.06 L130.75,73.42 L130.20,73.80 L129.66,74.21 L129.11,74.64 L128.57,75.10 L128.04,75.58 L127.52,76.08 L127.00,76.60 L126.50,77.14 L126.00,77.71 L125.52,78.29 L125.05,78.89 L124.59,79.50 L124.15,80.13 L123.72,80.78 L123.30,81.43 L122.91,82.10 L122.53,82.78 L122.17,83.46 L121.82,84.16 L121.50,84.86 L121.20,85.56 L120.91,86.27 L120.65,86.98 L120.41,87.69 L120.19,88.40 L120.00,89.11 L119.82,89.81 L119.67,90.51 L119.55,91.20 L119.45,91.89 L119.37,92.57 L119.31,93.24 L119.28,93.89 L119.28,94.54 L119.29,95.17 L119.34,95.78 L119.40,96.38 L119.49,96.97" fill="none" stroke="#1c1c1c" stroke-width="0.7" stroke-linecap="round" stroke-linejoin="round" />
<path d="M146.18,80.01 L146.07,79.00 L145.90,78.05 L145.66,77.15 L145.35,76.30 L144.98,75.52 L144.55,74.81 L144.06,74.17 L143.51,73.60 L142.91,73.12 L142.26,72.71 L141.57,72.38 L140.83,72.14 L140.05,71.99 L139.23,71.92 L138.39,71.94 L137.52,72.04 L136.63,72.23 L135.72,72.51 L134.80,72.87 L133.87,73.31 L132.94,73.83 L132.02,74.43 L131.10,75.10 L130.19,75.84 L129.30,76.65 L128.44,77.52 L127.60,78.45 L126.79,79.42 L126.02,80.45 L125.29,81.52 L124.60,82.62 L123.96,83.75 L123.37,84.90 L122.84,86.08 L122.36,87.26 L121.94,88.45 L121.58,89.64 L121.29,90.82 L121.06,91.98 L120.90,93.13 L120.80,94.25 L120.78,95.34 L120.82,96.39 L120.93,97.39 L121.10,98.35 L121.34,99.25 L121.65,100.09 L122.02,100.87 L122.45,101.59 L122.94,102.23 L123.49,102.79 L124.08,103.28 L124.73,103.69 L125.43,104.02 L126.17,104.26 L126.95,104.41 L127.76,104.48 L128.61,104.46 L129.48,104.36 L130.37,104.17 L131.28,103.89 L132.20,103.53 L133.13,103.09 L134.06,102.57 L134.98,101.97 L135.90,101.30 L136.81,100.56 L137.69,99.75 L138.56,98.88 L139.40,97.96 L134.75,97.05 L134.17,97.45 L133.58,97.81 L133.00,98.11 L132.42,98.37 L131.84,98.58 L131.27,98.74 L130.71,98.84 L130.16,98.90 L129.64,98.90 L129.13,98.85 L128.64,98.74 L128.17,98.59 L127.74,98.38 L127.33,98.12 L126.95,97.82 L126.60,97.47 L126.28,97.07 L126.01,96.63 L125.77,96.15 L125.56,95.62 L125.40,95.07 L125.27,94.47 L125.19,93.85 L125.14,93.20 L125.14,92.53 L125.18,91.83 L125.26,91.12 L125.38,90.39 L125.54,89.65 L125.74,88.90 L125.97,88.15 L126.25,87.40 L126.56,86.66 L126.90,85.92 L127.27,85.20 L127.68,84.48 L128.12,83.79 L128.58,83.12 L129.06,82.47 L129.57,81.85 L130.10,81.26 L130.64,80.71 L131.20,80.19 L131.76,79.72 L132.34,79.28 L132.92,78.89 L133.51,78.54 L134.09,78.24 L134.68,77.99 L135.25,77.79 L135.82,77.64 L136.38,77.54 L136.92,77.50 L137.45,77.51 L137.95,77.57 L138.44,77.68 L138.90,77.84 L139.33,78.06 L139.74,78.32 L140.11,78.63 L140.45,78.99 L140.76,79.40 L141.03,79.85 L141.27,80.34 L141.47,80.86 L141.63,81.43 L141.74,82.02 L141.82,82.65 L141.86,83.31 L141.86,83.98Z" fill="#fff" stroke="#1c1c1c" stroke-width="1.9" stroke-linecap="round" stroke-linejoin="round" />
<path d="M128.55,98.00 L128.84,97.99 L129.14,97.95 L129.44,97.91 L129.75,97.84 L130.05,97.76 L130.37,97.67 L130.68,97.56 L131.00,97.44 L131.31,97.30 L131.63,97.15 L131.95,96.98 L132.27,96.80 L132.59,96.60 L132.91,96.39 L133.22,96.17 L133.54,95.94 L133.85,95.69 L134.16,95.43 L134.47,95.16 L134.77,94.88 L135.07,94.58 L135.37,94.28 L135.66,93.96 L135.94,93.64 L136.22,93.30 L136.49,92.96 L136.76,92.61 L137.02,92.25 L137.27,91.89 L137.51,91.51 L137.75,91.13 L137.98,90.75 L138.19,90.36 L138.40,89.97 L138.61,89.57 L138.80,89.17 L138.98,88.76 L139.15,88.36 L139.31,87.95 L139.46,87.54 L139.60,87.13 L139.72,86.73 L139.84,86.32 L139.95,85.91 L140.04,85.51 L140.12,85.11 L140.19,84.71 L140.25,84.31" fill="none" stroke="#1c1c1c" stroke-width="1.2" stroke-linecap="round" stroke-linejoin="round" />
<path d="M141.60,86.70 L145.70,88.80" fill="none" stroke="#1c1c1c" stroke-width="1.3" stroke-linecap="round" stroke-linejoin="round" />
<path d="M45.70,50.00 L56.40,31.60 L70.30,28.20 L83.50,35.80 L85.00,44.00 L61.40,69.80 L49.50,63.50Z" fill="#fff" stroke="#1c1c1c" stroke-width="1.9" stroke-linecap="round" stroke-linejoin="round" />
<path d="M56.40,31.60 L68.40,38.30" fill="none" stroke="#1c1c1c" stroke-width="1.9" stroke-linecap="round" stroke-linejoin="round" />
<path d="M68.40,38.30 L60.20,54.70" fill="none" stroke="#1c1c1c" stroke-width="1.9" stroke-linecap="round" stroke-linejoin="round" />
<path d="M45.70,50.00 L60.20,54.70" fill="none" stroke="#1c1c1c" stroke-width="1.9" stroke-linecap="round" stroke-linejoin="round" />
<path d="M60.20,54.70 L61.40,69.80" fill="none" stroke="#1c1c1c" stroke-width="1.9" stroke-linecap="round" stroke-linejoin="round" />
<path d="M68.40,38.30 L80.50,35.80" fill="none" stroke="#1c1c1c" stroke-width="1.9" stroke-linecap="round" stroke-linejoin="round" />
<ellipse cx="72.60" cy="52.90" rx="10.20" ry="17.00" transform="rotate(30 72.60 52.90)" fill="#fff" stroke="#1c1c1c" stroke-width="1.9"/>
<path d="M68.40,38.30 L60.20,54.70" fill="none" stroke="#1c1c1c" stroke-width="1.9" stroke-linecap="round" stroke-linejoin="round" />
<path d="M60.20,54.70 L61.40,69.80" fill="none" stroke="#1c1c1c" stroke-width="1.9" stroke-linecap="round" stroke-linejoin="round" />
<ellipse cx="74.60" cy="54.05" rx="8.00" ry="14.40" transform="rotate(30 74.60 54.05)" fill="none" stroke="#1c1c1c" stroke-width="1.9"/>
<path d="M84.05,46.11 L109.60,60.86 L109.60,60.86 L109.94,61.08 L110.25,61.35 L110.54,61.65 L110.79,62.00 L111.02,62.39 L111.21,62.81 L111.38,63.26 L111.51,63.75 L111.61,64.27 L111.67,64.82 L111.70,65.39 L111.70,65.99 L111.66,66.61 L111.59,67.25 L111.49,67.90 L111.35,68.56 L111.18,69.24 L110.98,69.92 L110.75,70.61 L110.49,71.30 L110.20,71.98 L109.88,72.66 L109.54,73.34 L109.17,74.00 L108.78,74.65 L108.37,75.29 L107.93,75.90 L107.49,76.50 L107.02,77.07 L106.54,77.61 L106.05,78.13 L105.55,78.61 L105.04,79.06 L104.53,79.48 L104.01,79.86 L103.50,80.20 L102.98,80.50 L102.47,80.76 L101.96,80.98 L101.46,81.15 L100.97,81.28 L100.50,81.37 L100.03,81.41 L99.59,81.41 L99.16,81.36 L98.75,81.27 L98.36,81.13 L98.00,80.95 L72.45,66.21 L72.45,66.21 L72.11,65.98 L71.80,65.72 L71.51,65.41 L71.26,65.06 L71.03,64.68 L70.84,64.25 L70.67,63.80 L70.54,63.31 L70.44,62.79 L70.38,62.24 L70.35,61.67 L70.35,61.07 L70.39,60.45 L70.46,59.82 L70.56,59.16 L70.70,58.50 L70.87,57.82 L71.07,57.14 L71.30,56.45 L71.56,55.77 L71.85,55.08 L72.17,54.40 L72.51,53.72 L72.88,53.06 L73.27,52.41 L73.68,51.78 L74.12,51.16 L74.56,50.57 L75.03,50.00 L75.51,49.45 L76.00,48.94 L76.50,48.45 L77.01,48.00 L77.52,47.59 L78.04,47.21 L78.55,46.86 L79.07,46.56 L79.58,46.30 L80.09,46.08 L80.59,45.91 L81.08,45.78 L81.55,45.69 L82.02,45.65 L82.46,45.65 L82.89,45.70 L83.30,45.80 L83.69,45.93 L84.05,46.11Z" fill="#fff" stroke="none" stroke-width="0" stroke-linecap="round" stroke-linejoin="round" />
<path d="M84.05,46.11 L109.60,60.86" fill="none" stroke="#1c1c1c" stroke-width="1.9" stroke-linecap="round" stroke-linejoin="round" />
<path d="M72.45,66.21 L98.00,80.95" fill="none" stroke="#1c1c1c" stroke-width="1.9" stroke-linecap="round" stroke-linejoin="round" />
<path d="M84.05,46.11 L83.69,45.93 L83.30,45.80 L82.89,45.70 L82.46,45.65 L82.02,45.65 L81.55,45.69 L81.08,45.78 L80.59,45.91 L80.09,46.08 L79.58,46.30 L79.07,46.56 L78.55,46.86 L78.04,47.21 L77.52,47.59 L77.01,48.00 L76.50,48.45 L76.00,48.94 L75.51,49.45 L75.03,50.00 L74.56,50.57 L74.12,51.16 L73.68,51.78 L73.27,52.41 L72.88,53.06 L72.51,53.72 L72.17,54.40 L71.85,55.08 L71.56,55.77 L71.30,56.45 L71.07,57.14 L70.87,57.82 L70.70,58.50 L70.56,59.16 L70.46,59.82 L70.39,60.45 L70.35,61.07 L70.35,61.67 L70.38,62.24 L70.44,62.79 L70.54,63.31 L70.67,63.80 L70.84,64.25 L71.03,64.68 L71.26,65.06 L71.51,65.41 L71.80,65.72 L72.11,65.98 L72.45,66.21" fill="none" stroke="#1c1c1c" stroke-width="1.5" stroke-linecap="round" stroke-linejoin="round" />
<path d="M87.70,48.22 L87.34,48.04 L86.95,47.90 L86.54,47.81 L86.11,47.76 L85.67,47.76 L85.20,47.80 L84.73,47.89 L84.24,48.02 L83.74,48.19 L83.23,48.41 L82.72,48.67 L82.20,48.97 L81.69,49.31 L81.17,49.69 L80.66,50.11 L80.15,50.56 L79.65,51.04 L79.16,51.56 L78.68,52.10 L78.21,52.67 L77.77,53.27 L77.33,53.88 L76.92,54.52 L76.53,55.17 L76.16,55.83 L75.82,56.50 L75.50,57.19 L75.21,57.87 L74.95,58.56 L74.72,59.25 L74.52,59.93 L74.35,60.60 L74.21,61.27 L74.11,61.92 L74.04,62.56 L74.00,63.18 L74.00,63.78 L74.03,64.35 L74.09,64.90 L74.19,65.42 L74.32,65.90 L74.49,66.36 L74.68,66.78 L74.91,67.17 L75.16,67.51 L75.45,67.82 L75.76,68.09 L76.10,68.31" fill="none" stroke="#1c1c1c" stroke-width="1.5" stroke-linecap="round" stroke-linejoin="round" />
<path d="M91.35,50.33 L90.99,50.15 L90.60,50.01 L90.19,49.91 L89.76,49.87 L89.32,49.86 L88.85,49.90 L88.38,49.99 L87.89,50.12 L87.39,50.30 L86.88,50.52 L86.37,50.78 L85.85,51.08 L85.34,51.42 L84.82,51.80 L84.31,52.21 L83.80,52.66 L83.30,53.15 L82.81,53.66 L82.33,54.21 L81.86,54.78 L81.42,55.37 L80.98,55.99 L80.57,56.62 L80.18,57.27 L79.81,57.94 L79.47,58.61 L79.15,59.29 L78.86,59.98 L78.60,60.67 L78.37,61.35 L78.17,62.04 L78.00,62.71 L77.86,63.38 L77.76,64.03 L77.69,64.67 L77.65,65.28 L77.65,65.88 L77.68,66.45 L77.74,67.00 L77.84,67.52 L77.97,68.01 L78.14,68.47 L78.33,68.89 L78.56,69.27 L78.81,69.62 L79.10,69.93 L79.41,70.19 L79.75,70.42" fill="none" stroke="#1c1c1c" stroke-width="1.5" stroke-linecap="round" stroke-linejoin="round" />
<path d="M95.00,52.43 L94.64,52.25 L94.25,52.11 L93.84,52.02 L93.41,51.97 L92.97,51.97 L92.50,52.01 L92.03,52.10 L91.54,52.23 L91.04,52.40 L90.53,52.62 L90.02,52.88 L89.50,53.18 L88.99,53.52 L88.47,53.90 L87.96,54.32 L87.45,54.77 L86.95,55.25 L86.46,55.77 L85.98,56.31 L85.51,56.88 L85.07,57.48 L84.63,58.09 L84.22,58.73 L83.83,59.38 L83.46,60.04 L83.12,60.72 L82.80,61.40 L82.51,62.08 L82.25,62.77 L82.02,63.46 L81.82,64.14 L81.65,64.82 L81.51,65.48 L81.41,66.13 L81.34,66.77 L81.30,67.39 L81.30,67.99 L81.33,68.56 L81.39,69.11 L81.49,69.63 L81.62,70.12 L81.79,70.57 L81.98,70.99 L82.21,71.38 L82.46,71.73 L82.75,72.03 L83.06,72.30 L83.40,72.52" fill="none" stroke="#1c1c1c" stroke-width="1.5" stroke-linecap="round" stroke-linejoin="round" />
<path d="M98.65,54.54 L98.29,54.36 L97.90,54.22 L97.49,54.13 L97.06,54.08 L96.62,54.08 L96.15,54.12 L95.68,54.20 L95.19,54.33 L94.69,54.51 L94.18,54.73 L93.67,54.99 L93.15,55.29 L92.64,55.63 L92.12,56.01 L91.61,56.43 L91.10,56.88 L90.60,57.36 L90.11,57.88 L89.63,58.42 L89.16,58.99 L88.72,59.58 L88.28,60.20 L87.87,60.83 L87.48,61.48 L87.11,62.15 L86.77,62.82 L86.45,63.50 L86.16,64.19 L85.90,64.88 L85.67,65.56 L85.47,66.25 L85.30,66.92 L85.16,67.59 L85.06,68.24 L84.99,68.88 L84.95,69.50 L84.95,70.09 L84.98,70.67 L85.04,71.21 L85.14,71.73 L85.27,72.22 L85.44,72.68 L85.63,73.10 L85.86,73.49 L86.11,73.83 L86.40,74.14 L86.71,74.41 L87.05,74.63" fill="none" stroke="#1c1c1c" stroke-width="1.5" stroke-linecap="round" stroke-linejoin="round" />
<path d="M102.30,56.64 L101.94,56.46 L101.55,56.33 L101.14,56.23 L100.71,56.18 L100.27,56.18 L99.80,56.22 L99.33,56.31 L98.84,56.44 L98.34,56.62 L97.83,56.83 L97.32,57.09 L96.80,57.39 L96.29,57.74 L95.77,58.12 L95.26,58.53 L94.75,58.98 L94.25,59.47 L93.76,59.98 L93.28,60.53 L92.81,61.10 L92.37,61.69 L91.93,62.31 L91.52,62.94 L91.13,63.59 L90.76,64.25 L90.42,64.93 L90.10,65.61 L89.81,66.30 L89.55,66.98 L89.32,67.67 L89.12,68.35 L88.95,69.03 L88.81,69.69 L88.71,70.35 L88.64,70.98 L88.60,71.60 L88.60,72.20 L88.63,72.77 L88.69,73.32 L88.79,73.84 L88.92,74.33 L89.09,74.79 L89.28,75.21 L89.51,75.59 L89.76,75.94 L90.05,76.25 L90.36,76.51 L90.70,76.74" fill="none" stroke="#1c1c1c" stroke-width="1.5" stroke-linecap="round" stroke-linejoin="round" />
<path d="M105.95,58.75 L105.59,58.57 L105.20,58.43 L104.79,58.34 L104.36,58.29 L103.92,58.29 L103.45,58.33 L102.98,58.42 L102.49,58.55 L101.99,58.72 L101.48,58.94 L100.97,59.20 L100.45,59.50 L99.94,59.84 L99.42,60.22 L98.91,60.64 L98.40,61.09 L97.90,61.57 L97.41,62.09 L96.93,62.63 L96.46,63.20 L96.02,63.80 L95.58,64.41 L95.17,65.05 L94.78,65.70 L94.41,66.36 L94.07,67.03 L93.75,67.72 L93.46,68.40 L93.20,69.09 L92.97,69.78 L92.77,70.46 L92.60,71.13 L92.46,71.80 L92.36,72.45 L92.29,73.09 L92.25,73.71 L92.25,74.31 L92.28,74.88 L92.34,75.43 L92.44,75.95 L92.57,76.44 L92.74,76.89 L92.93,77.31 L93.16,77.70 L93.41,78.04 L93.70,78.35 L94.01,78.62 L94.35,78.84" fill="none" stroke="#1c1c1c" stroke-width="1.5" stroke-linecap="round" stroke-linejoin="round" />
<path d="M109.60,60.86 L109.24,60.68 L108.85,60.54 L108.44,60.44 L108.01,60.40 L107.57,60.39 L107.10,60.43 L106.63,60.52 L106.14,60.65 L105.64,60.83 L105.13,61.05 L104.62,61.31 L104.10,61.61 L103.59,61.95 L103.07,62.33 L102.56,62.74 L102.05,63.19 L101.55,63.68 L101.06,64.19 L100.58,64.74 L100.11,65.31 L99.67,65.90 L99.23,66.52 L98.82,67.15 L98.43,67.80 L98.06,68.47 L97.72,69.14 L97.40,69.82 L97.11,70.51 L96.85,71.20 L96.62,71.88 L96.42,72.57 L96.25,73.24 L96.11,73.91 L96.01,74.56 L95.94,75.20 L95.90,75.81 L95.90,76.41 L95.93,76.99 L95.99,77.53 L96.09,78.05 L96.22,78.54 L96.39,79.00 L96.58,79.42 L96.81,79.80 L97.06,80.15 L97.35,80.46 L97.66,80.72 L98.00,80.95" fill="none" stroke="#1c1c1c" stroke-width="1.5" stroke-linecap="round" stroke-linejoin="round" />
<path d="M98.00,80.95 L98.36,81.13 L98.75,81.27 L99.16,81.36 L99.59,81.41 L100.03,81.41 L100.50,81.37 L100.97,81.28 L101.46,81.15 L101.96,80.98 L102.47,80.76 L102.98,80.50 L103.50,80.20 L104.01,79.86 L104.53,79.48 L105.04,79.06 L105.55,78.61 L106.05,78.13 L106.54,77.61 L107.02,77.07 L107.49,76.50 L107.93,75.90 L108.37,75.29 L108.78,74.65 L109.17,74.00 L109.54,73.34 L109.88,72.66 L110.20,71.98 L110.49,71.30 L110.75,70.61 L110.98,69.92 L111.18,69.24 L111.35,68.56 L111.49,67.90 L111.59,67.25 L111.66,66.61 L111.70,65.99 L111.70,65.39 L111.67,64.82 L111.61,64.27 L111.51,63.75 L111.38,63.26 L111.21,62.81 L111.02,62.39 L110.79,62.00 L110.54,61.65 L110.25,61.35 L109.94,61.08 L109.60,60.86" fill="none" stroke="#1c1c1c" stroke-width="1.9" stroke-linecap="round" stroke-linejoin="round" />
<path d="M87.30,21.00 C84.87,19.07 85.43,18.20 80.00,15.20 C74.57,12.20 77.00,13.30 71.00,12.00 C65.00,10.70 68.33,10.80 62.00,11.30 C55.67,11.80 58.00,11.10 52.00,13.50 C46.00,15.90 48.67,14.67 44.00,18.50 C39.33,22.33 41.33,20.33 38.00,25.00 C34.67,29.67 35.90,27.33 34.00,32.50 C32.10,37.67 32.77,34.67 32.30,40.50 C31.83,46.33 32.50,46.83 32.60,50.00" fill="none" stroke="#1c1c1c" stroke-width="1.9" stroke-linecap="round" stroke-linejoin="round" />
<path d="M27,52 L38.7,48.3 L37,66.3 Z" fill="#1c1c1c" stroke="#1c1c1c" stroke-width="0.6" stroke-linecap="round" stroke-linejoin="round" />
<path d="M463.30,278.71 L579.00,345.41" fill="none" stroke="#fff" stroke-width="10.5" stroke-linecap="butt" stroke-linejoin="round" />
<path d="M176.50,113.37 L196.50,124.90" fill="none" stroke="#fff" stroke-width="10" stroke-linecap="butt" stroke-linejoin="round" />
<path d="M216.00,136.14 L251.00,156.32" fill="none" stroke="#fff" stroke-width="10" stroke-linecap="butt" stroke-linejoin="round" />
<path d="M108.00,73.88 L116.00,78.49" fill="none" stroke="#fff" stroke-width="8" stroke-linecap="butt" stroke-linejoin="round" />
<path d="M104.30,71.74 L109.00,74.45" fill="none" stroke="#1c1c1c" stroke-width="1.8" stroke-linecap="butt" stroke-linejoin="round" />
<path d="M115.40,78.14 L120.00,80.79" fill="none" stroke="#1c1c1c" stroke-width="1.8" stroke-linecap="butt" stroke-linejoin="round" />
<path d="M133.40,88.52 L138.10,91.23" fill="none" stroke="#1c1c1c" stroke-width="1.8" stroke-linecap="butt" stroke-linejoin="round" />
<path d="M145.80,95.67 L150.80,98.55" fill="none" stroke="#1c1c1c" stroke-width="1.8" stroke-linecap="butt" stroke-linejoin="round" />
<path d="M174.80,112.39 L180.10,115.44" fill="none" stroke="#1c1c1c" stroke-width="1.8" stroke-linecap="butt" stroke-linejoin="round" />
<path d="M188.80,120.46 L194.70,123.86" fill="none" stroke="#1c1c1c" stroke-width="1.8" stroke-linecap="butt" stroke-linejoin="round" />
<path d="M217.60,137.06 L222.50,139.89" fill="none" stroke="#1c1c1c" stroke-width="1.8" stroke-linecap="butt" stroke-linejoin="round" />
<path d="M228.80,143.52 L238.00,148.82" fill="none" stroke="#1c1c1c" stroke-width="1.8" stroke-linecap="butt" stroke-linejoin="round" />
<path d="M244.30,152.45 L249.20,155.28" fill="none" stroke="#1c1c1c" stroke-width="1.8" stroke-linecap="butt" stroke-linejoin="round" />
<path d="M463.70,278.94 L469.10,282.05" fill="none" stroke="#1c1c1c" stroke-width="1.8" stroke-linecap="butt" stroke-linejoin="round" />
<path d="M478.80,287.64 L490.40,294.33" fill="none" stroke="#1c1c1c" stroke-width="1.8" stroke-linecap="butt" stroke-linejoin="round" />
<path d="M500.10,299.92 L511.80,306.67" fill="none" stroke="#1c1c1c" stroke-width="1.8" stroke-linecap="butt" stroke-linejoin="round" />
<path d="M521.30,312.14 L533.00,318.89" fill="none" stroke="#1c1c1c" stroke-width="1.8" stroke-linecap="butt" stroke-linejoin="round" />
<path d="M542.80,324.54 L554.50,331.28" fill="none" stroke="#1c1c1c" stroke-width="1.8" stroke-linecap="butt" stroke-linejoin="round" />
<path d="M564.40,336.99 L576.00,343.68" fill="none" stroke="#1c1c1c" stroke-width="1.8" stroke-linecap="butt" stroke-linejoin="round" />
<path d="M585.30,349.04 L591.10,352.38" fill="none" stroke="#1c1c1c" stroke-width="1.8" stroke-linecap="butt" stroke-linejoin="round" />
<path d="M53.10,66.00 L53.10,127.50" fill="none" stroke="#1c1c1c" stroke-width="1.8" stroke-linecap="round" stroke-linejoin="round" />
<path d="M120.60,102.00 L120.60,165.40" fill="none" stroke="#1c1c1c" stroke-width="1.8" stroke-linecap="round" stroke-linejoin="round" />
<path d="M159.30,132.60 L159.30,186.40" fill="none" stroke="#1c1c1c" stroke-width="1.8" stroke-linecap="round" stroke-linejoin="round" />
<path d="M198.20,167.00 L198.20,209.50" fill="none" stroke="#1c1c1c" stroke-width="1.8" stroke-linecap="round" stroke-linejoin="round" />
<path d="M651.80,429.80 L651.80,460.00" fill="none" stroke="#1c1c1c" stroke-width="1.8" stroke-linecap="round" stroke-linejoin="round" />
<text x="34.7" y="160.0" font-size="30.5"  letter-spacing="1.0" stroke="#1c1c1c" stroke-width="0.5">[</text>
<text x="62.5" y="160.0" font-size="30.5"  letter-spacing="1.0" stroke="#1c1c1c" stroke-width="0.5">]</text>
<path d="M56.1,138.2 L53.7,138.2 C52.7,140.8 50.3,143 47.2,144.2 L47.2,147 C49.6,146.2 51.7,144.9 53,143.5 L53,160 L56.1,160 Z" fill="#1c1c1c"/>
<text x="103.6" y="195.6" font-size="30.5"  letter-spacing="1.0" stroke="#1c1c1c" stroke-width="0.5">[2]</text>
<text x="142.2" y="214.5" font-size="30.5"  letter-spacing="1.0" stroke="#1c1c1c" stroke-width="0.5">[3]</text>
<text x="179.5" y="237.6" font-size="30.5"  letter-spacing="1.0" stroke="#1c1c1c" stroke-width="0.5">[4]</text>
<text x="633.6" y="488.2" font-size="30.5"  letter-spacing="1.0" stroke="#1c1c1c" stroke-width="0.5">[5]</text>
<text x="91.0" y="315.4" font-size="35" font-weight="bold" letter-spacing="0" stroke="#1c1c1c" stroke-width="0.5">A</text>
</svg>
</body></html>
